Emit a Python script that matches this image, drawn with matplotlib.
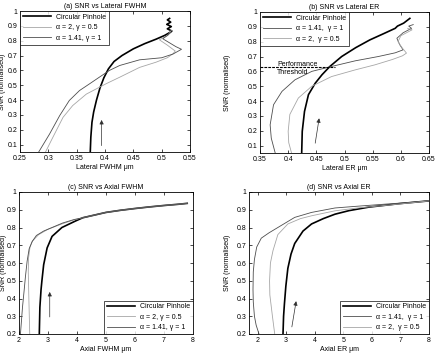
import numpy as np
import matplotlib
matplotlib.use('Agg')
from matplotlib import pyplot as plt

plt.rcParams['font.family'] = ['Liberation Sans', 'DejaVu Sans']
plt.rcParams['font.size'] = 5

BLACK = '#000000'
DARK = '#4d4d4d'
LIGHT = '#a6a6a6'

# ---- (a) SNR vs Lateral FWHM ----
a_circ_x = [0.374, 0.375, 0.377, 0.380, 0.385, 0.391, 0.398, 0.406, 0.416, 0.430, 0.450, 0.470, 0.490, 0.505,
            0.512, 0.518, 0.510, 0.517, 0.509, 0.516, 0.510, 0.514]
a_circ_y = [0.05, 0.15, 0.25, 0.32, 0.40, 0.48, 0.55, 0.61, 0.66, 0.70, 0.745, 0.78, 0.81, 0.835,
            0.85, 0.865, 0.88, 0.895, 0.91, 0.925, 0.94, 0.95]
a_a2_x = [0.295, 0.308, 0.326, 0.343, 0.367, 0.402, 0.426, 0.461, 0.490, 0.510, 0.520, 0.524, 0.510, 0.496,
          0.511, 0.517]
a_a2_y = [0.05, 0.149, 0.284, 0.363, 0.44, 0.51, 0.554, 0.62, 0.655, 0.685, 0.712, 0.73, 0.77, 0.806,
          0.836, 0.87]
a_a141_x = [0.283, 0.302, 0.320, 0.337, 0.355, 0.373, 0.390, 0.408, 0.426, 0.461, 0.500, 0.520, 0.535, 0.525,
            0.502, 0.510, 0.517]
a_a141_y = [0.05, 0.17, 0.295, 0.397, 0.464, 0.51, 0.554, 0.60, 0.633, 0.671, 0.685, 0.71, 0.742, 0.76,
            0.813, 0.835, 0.858]

# ---- (b) SNR vs Lateral ER ----
b_circ_x = [0.424, 0.425, 0.429, 0.436, 0.448, 0.460, 0.474, 0.495, 0.520, 0.545, 0.570, 0.590, 0.594, 0.605, 0.616]
b_circ_y = [0.05, 0.196, 0.33, 0.443, 0.52, 0.577, 0.633, 0.70, 0.76, 0.812, 0.855, 0.89, 0.905, 0.925, 0.957]
b_a141_x = [0.377, 0.370, 0.368, 0.374, 0.389, 0.412, 0.442, 0.477, 0.519, 0.560, 0.590, 0.604, 0.598, 0.593,
            0.604, 0.619, 0.614, 0.622]
b_a141_y = [0.05, 0.15, 0.24, 0.375, 0.465, 0.543, 0.60, 0.633, 0.671, 0.70, 0.725, 0.745, 0.78, 0.823,
            0.86, 0.89, 0.905, 0.915]
b_a2_x = [0.406, 0.401, 0.400, 0.403, 0.418, 0.442, 0.477, 0.519, 0.554, 0.585, 0.603, 0.610, 0.602, 0.595,
          0.600, 0.610, 0.620, 0.612]
b_a2_y = [0.05, 0.12, 0.196, 0.31, 0.42, 0.50, 0.565, 0.61, 0.644, 0.68, 0.705, 0.723, 0.76, 0.80,
          0.84, 0.86, 0.88, 0.89]
b_thresh = 0.63

# ---- (c) SNR vs Axial FWHM ----
c_tail_x = [4.2, 4.6, 5.0, 5.5, 6.0, 6.5, 7.0, 7.5, 7.8]
c_tail_y = [0.855, 0.87, 0.885, 0.897, 0.907, 0.916, 0.924, 0.931, 0.936]
c_circ_x = [2.70, 2.72, 2.76, 2.79, 2.85, 2.97, 3.14, 3.48, 3.94]
c_circ_y = [0.2, 0.35, 0.45, 0.50, 0.59, 0.685, 0.75, 0.80, 0.836]
c_a2_x = [2.37, 2.34, 2.32, 2.33, 2.38, 2.47, 2.68, 3.00, 3.48, 3.90]
c_a2_y = [0.2, 0.4, 0.55, 0.63, 0.69, 0.725, 0.76, 0.79, 0.82, 0.843]
c_a141_x = [2.05, 2.12, 2.18, 2.22, 2.28, 2.35, 2.45, 2.60, 2.85, 3.14, 3.50, 3.90]
c_a141_y = [0.2, 0.35, 0.45, 0.52, 0.61, 0.68, 0.72, 0.755, 0.78, 0.80, 0.825, 0.845]

# ---- (d) SNR vs Axial ER ----
d_circ_x = [2.89, 2.91, 2.94, 2.99, 3.06, 3.17, 3.30, 3.59, 3.89, 4.3, 4.71, 5.2, 5.9, 7.0, 8.0]
d_circ_y = [0.2, 0.3, 0.37, 0.47, 0.57, 0.65, 0.71, 0.78, 0.82, 0.85, 0.875, 0.895, 0.915, 0.935, 0.95]
d_a141_x = [2.05, 1.95, 1.89, 1.85, 1.84, 1.85, 1.89, 1.97, 2.13, 2.4, 2.71, 3.3, 3.89, 4.71, 5.5, 6.5, 7.3, 8.0]
d_a141_y = [0.2, 0.25, 0.30, 0.38, 0.45, 0.55, 0.62, 0.69, 0.74, 0.77, 0.80, 0.857, 0.885, 0.91, 0.92, 0.932,
            0.941, 0.95]
d_a2_x = [2.6, 2.52, 2.43, 2.42, 2.45, 2.54, 2.71, 3.06, 3.5, 3.89, 4.71, 5.5, 6.5, 7.3, 8.0]
d_a2_y = [0.2, 0.3, 0.42, 0.5, 0.6, 0.67, 0.76, 0.82, 0.85, 0.866, 0.894, 0.91, 0.925, 0.938, 0.95]

lab_circ = 'Circular Pinhole'
lab_a2 = '\u03b1 = 2, \u03b3 = 0.5'
lab_a141 = '\u03b1 = 1.41, \u03b3 = 1'
lab_a2b = '\u03b1 = 2,  \u03b3 = 0.5'
lab_a141b = '\u03b1 = 1.41,  \u03b3 = 1'

W, H = 436, 358
fig = plt.figure(figsize=(W / 100, H / 100), dpi=100)


def make_axes(l, r, t, b):
    return fig.add_axes([l / W, 1 - b / H, (r - l) / W, (b - t) / H])


def style(ax, title, xlabel, ylab_x):
    ax.tick_params(direction='in', length=2.5, width=0.5, top=True, right=True, labelsize=5, pad=2)
    for s in ax.spines.values():
        s.set_linewidth(0.6)
    ax.set_title(title, fontsize=5, pad=2.5)
    ax.set_xlabel(xlabel, fontsize=5, labelpad=1.5)
    ax.set_ylabel('SNR (normalised)', fontsize=5)
    ax.yaxis.set_label_coords(ylab_x, 0.5)


def arrow(ax, tail, head):
    ax.annotate('', xy=head, xytext=tail,
                arrowprops=dict(arrowstyle='-|>', color='#303030', lw=0.5, mutation_scale=6,
                                shrinkA=0, shrinkB=0))


def legend(ax, loc):
    lg = ax.legend(loc=loc, fontsize=5, frameon=True, fancybox=False, edgecolor='black',
                   borderaxespad=0, handlelength=4, labelspacing=0.5, borderpad=0.4)
    lg.get_frame().set_linewidth(0.6)


# (a)
ax = make_axes(20, 190, 11, 152)
ax.plot(a_circ_x, a_circ_y, color=BLACK, lw=1.2, label=lab_circ)
ax.plot(a_a2_x, a_a2_y, color=LIGHT, lw=0.6, label=lab_a2)
ax.plot(a_a141_x, a_a141_y, color=DARK, lw=0.6, label=lab_a141)
ax.set_xlim(0.25, 0.55)
ax.set_ylim(0.05, 1)
ax.set_xticks(np.arange(0.25, 0.5501, 0.05))
ax.set_xticklabels(['0.25', '0.3', '0.35', '0.4', '0.45', '0.5', '0.55'])
ax.set_yticks(np.arange(0.1, 1.001, 0.1))
ax.set_yticklabels(['0.1', '0.2', '0.3', '0.4', '0.5', '0.6', '0.7', '0.8', '0.9', '1'])
style(ax, '(a) SNR vs Lateral FWHM', 'Lateral FWHM \u03bcm', -0.085)
arrow(ax, (0.394, 0.093), (0.394, 0.266))
legend(ax, 'upper left')

# (b)
ax = make_axes(260, 429, 12, 153)
ax.plot(b_circ_x, b_circ_y, color=BLACK, lw=1.2, label=lab_circ)
ax.plot(b_a141_x, b_a141_y, color=DARK, lw=0.6, label=lab_a141b)
ax.plot(b_a2_x, b_a2_y, color=LIGHT, lw=0.6, label=lab_a2b)
ax.plot([0.35, 0.483], [b_thresh, b_thresh], color=BLACK, lw=0.8, ls=(0, (2.5, 1)))
ax.text(0.38, b_thresh - 0.01, 'Performance', fontsize=5, va='bottom', ha='left')
ax.text(0.38, b_thresh - 0.012, 'Threshold', fontsize=5, va='top', ha='left')
ax.set_xlim(0.35, 0.65)
ax.set_ylim(0.05, 1)
ax.set_xticks(np.arange(0.35, 0.6501, 0.05))
ax.set_xticklabels(['0.35', '0.4', '0.45', '0.5', '0.55', '0.6', '0.65'])
ax.set_yticks(np.arange(0.1, 1.001, 0.1))
ax.set_yticklabels(['0.1', '0.2', '0.3', '0.4', '0.5', '0.6', '0.7', '0.8', '0.9', '1'])
style(ax, '(b) SNR vs Lateral ER', 'Lateral ER \u03bcm', -0.17)
arrow(ax, (0.448, 0.116), (0.455, 0.284))
legend(ax, 'upper left')

# (c)
ax = make_axes(19, 193, 192, 334)
ax.plot(c_circ_x + c_tail_x, c_circ_y + c_tail_y, color=BLACK, lw=1.2, label=lab_circ)
ax.plot(c_a2_x + c_tail_x, c_a2_y + c_tail_y, color=LIGHT, lw=0.6, label=lab_a2)
ax.plot(c_a141_x + c_tail_x, c_a141_y + c_tail_y, color=DARK, lw=0.6, label=lab_a141)
ax.set_xlim(2, 8)
ax.set_ylim(0.2, 1)
ax.set_xticks(range(2, 9))
ax.set_yticks(np.arange(0.2, 1.001, 0.1))
ax.set_yticklabels(['0.2', '0.3', '0.4', '0.5', '0.6', '0.7', '0.8', '0.9', '1'])
style(ax, '(c) SNR vs Axial FWHM', 'Axial FWHM \u03bcm', -0.07)
arrow(ax, (3.06, 0.296), (3.06, 0.437))
legend(ax, 'lower right')

# (d)
ax = make_axes(249, 429, 192, 334)
ax.plot(d_circ_x, d_circ_y, color=BLACK, lw=1.2, label=lab_circ)
ax.plot(d_a141_x, d_a141_y, color=DARK, lw=0.6, label=lab_a141b)
ax.plot(d_a2_x, d_a2_y, color=LIGHT, lw=0.6, label=lab_a2b)
ax.set_xlim(1.7, 8)
ax.set_ylim(0.2, 1)
ax.set_xticks(range(2, 9))
ax.set_yticks(np.arange(0.2, 1.001, 0.1))
ax.set_yticklabels(['0.2', '0.3', '0.4', '0.5', '0.6', '0.7', '0.8', '0.9', '1'])
style(ax, '(d) SNR vs Axial ER', 'Axial ER \u03bcm', -0.1)
arrow(ax, (3.2, 0.24), (3.35, 0.385))
legend(ax, 'lower right')

fig.savefig('out.png', dpi=100, facecolor='white')
